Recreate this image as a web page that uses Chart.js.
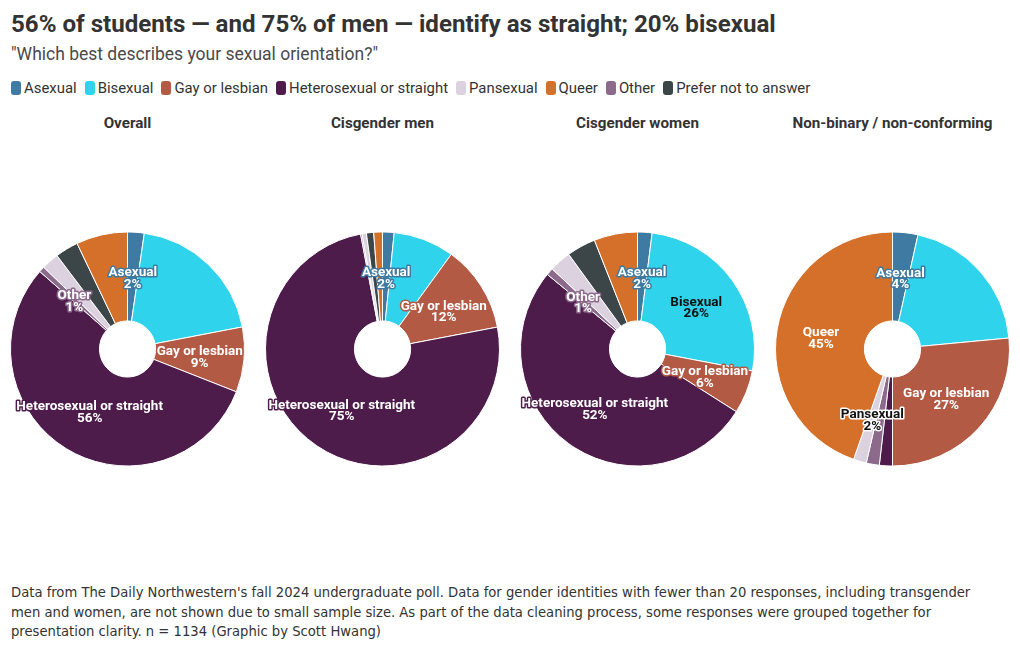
<!DOCTYPE html>
<html>
<head>
<meta charset="utf-8">
<script src="https://cdn.jsdelivr.net/npm/chart.js@4"></script>
<style>
  body { margin: 0; background: #fff; width: 1020px; height: 650px; position: relative; overflow: hidden; font-family: Roboto, sans-serif; color: #333; }
  #title { position: absolute; left: 11px; top: 10px; font-size: 24.1px; font-weight: 700; color: #333; white-space: nowrap; }
  #subtitle { position: absolute; left: 11px; top: 44px; font-size: 17.5px; color: #4a4a4a; white-space: nowrap; }
  #legend { position: absolute; left: 11px; top: 79px; display: flex; font-size: 14.9px; color: #333; white-space: nowrap; }
  #legend .item { display: flex; align-items: center; margin-right: 8px; }
  #legend .sw { width: 10px; height: 14px; border-radius: 3px; margin-right: 3px; }
  .col { position: absolute; top: 114px; width: 255px; height: 440px; }
  .col h3 { margin: 0; font-size: 15.2px; font-weight: 700; text-align: center; color: #333; }
  .col .wrap { position: absolute; top: 25px; left: 0; width: 255px; height: 420px; }
  #note { position: absolute; left: 11px; top: 582px; font-family: "DejaVu Sans Condensed", sans-serif; font-size: 14.65px; line-height: 19.5px; color: #333; white-space: nowrap; }
</style>
</head>
<body>
<div id="title">56% of students — and 75% of men — identify as straight; 20% bisexual</div>
<div id="subtitle">"Which best describes your sexual orientation?"</div>
<div id="legend"></div>
<div id="charts"></div>
<div id="note">Data from The Daily Northwestern's fall 2024 undergraduate poll. Data for gender identities with fewer than 20 responses, including transgender<br>men and women, are not shown due to small sample size. As part of the data cleaning process, some responses were grouped together for<br>presentation clarity. n = 1134 (Graphic by Scott Hwang)</div>
<script>
// slice order (alphabetical, as in the original)
const categories = ["Asexual", "Bisexual", "Gay or lesbian", "Heterosexual or straight", "Other", "Pansexual", "Prefer not to answer", "Queer"];
const colors = ["#3e7aa1", "#2fd3eb", "#b35a45", "#4e1c4b", "#8c6a8c", "#dcd1de", "#3c4649", "#d5702a"];
const legendOrder = ["Asexual", "Bisexual", "Gay or lesbian", "Heterosexual or straight", "Pansexual", "Queer", "Other", "Prefer not to answer"];

const groups = ["Overall", "Cisgender men", "Cisgender women", "Non-binary / non-conforming"];
const overall = [2.3, 19.7, 9, 55.6, 0.8, 2.4, 3.2, 7.1];
const cisMen = [1.6, 8.4, 12, 75, 0.2, 0.6, 1.0, 1.2];
const cisWomen = [2, 26, 6, 52, 1, 3, 4, 6];
const nonBinary = [3.5, 20, 26.5, 1.8, 1.8, 1.8, 0, 44.6];
const seriesValues = [overall, cisMen, cisWomen, nonBinary];

// which slices get a label in each pie
const shownLabels = [
  ["Asexual", "Gay or lesbian", "Heterosexual or straight", "Other"],
  ["Asexual", "Gay or lesbian", "Heterosexual or straight"],
  ["Asexual", "Bisexual", "Gay or lesbian", "Heterosexual or straight", "Other"],
  ["Asexual", "Gay or lesbian", "Pansexual", "Queer"]
];
const lightSlices = ["Bisexual", "Pansexual"];

// legend
const legendEl = document.getElementById("legend");
legendOrder.forEach((name) => {
  const item = document.createElement("div");
  item.className = "item";
  const sw = document.createElement("span");
  sw.className = "sw";
  sw.style.background = colors[categories.indexOf(name)];
  const txt = document.createElement("span");
  txt.textContent = name;
  item.appendChild(sw);
  item.appendChild(txt);
  legendEl.appendChild(item);
});

// draws the slice labels at the middle of each arc
const sliceLabels = {
  id: "sliceLabels",
  afterDatasetsDraw(chart, args, opts) {
    const ctx = chart.ctx;
    const meta = chart.getDatasetMeta(0);
    const values = chart.data.datasets[0].data;
    const total = values.reduce((a, b) => a + b, 0);
    ctx.save();
    ctx.font = "700 13.5px Roboto, sans-serif";
    ctx.textAlign = "center";
    ctx.textBaseline = "middle";
    ctx.lineJoin = "round";
    meta.data.forEach((arc, i) => {
      const name = chart.data.labels[i];
      if (!opts.show.includes(name)) return;
      const pos = arc.tooltipPosition();
      const light = lightSlices.includes(name);
      const lines = [name, Math.round(values[i] / total * 100) + "%"];
      lines.forEach((line, j) => {
        const y = pos.y + 2 + (j - 0.5) * 11.5;
        ctx.lineWidth = 3;
        ctx.strokeStyle = name === "Pansexual" ? "#fff" : colors[i];
        ctx.strokeText(line, pos.x, y);
        ctx.fillStyle = light ? "#111" : "#fff";
        ctx.fillText(line, pos.x, y);
      });
    });
    ctx.restore();
  }
};

const chartsEl = document.getElementById("charts");
groups.forEach((group, g) => {
  const col = document.createElement("div");
  col.className = "col";
  col.style.left = (g * 255) + "px";
  const h = document.createElement("h3");
  h.textContent = group;
  const wrap = document.createElement("div");
  wrap.className = "wrap";
  const canvas = document.createElement("canvas");
  wrap.appendChild(canvas);
  col.appendChild(h);
  col.appendChild(wrap);
  chartsEl.appendChild(col);

  new Chart(canvas, {
    type: "doughnut",
    data: {
      labels: categories,
      datasets: [{
        data: seriesValues[g],
        backgroundColor: colors,
        borderColor: "#fff",
        borderWidth: 1
      }]
    },
    options: {
      responsive: true,
      maintainAspectRatio: false,
      animation: false,
      cutout: "24%",
      layout: { padding: 10 },
      plugins: {
        legend: { display: false },
        tooltip: { enabled: false },
        sliceLabels: { show: shownLabels[g] }
      }
    },
    plugins: [sliceLabels]
  });
});
</script>
</body>
</html>
